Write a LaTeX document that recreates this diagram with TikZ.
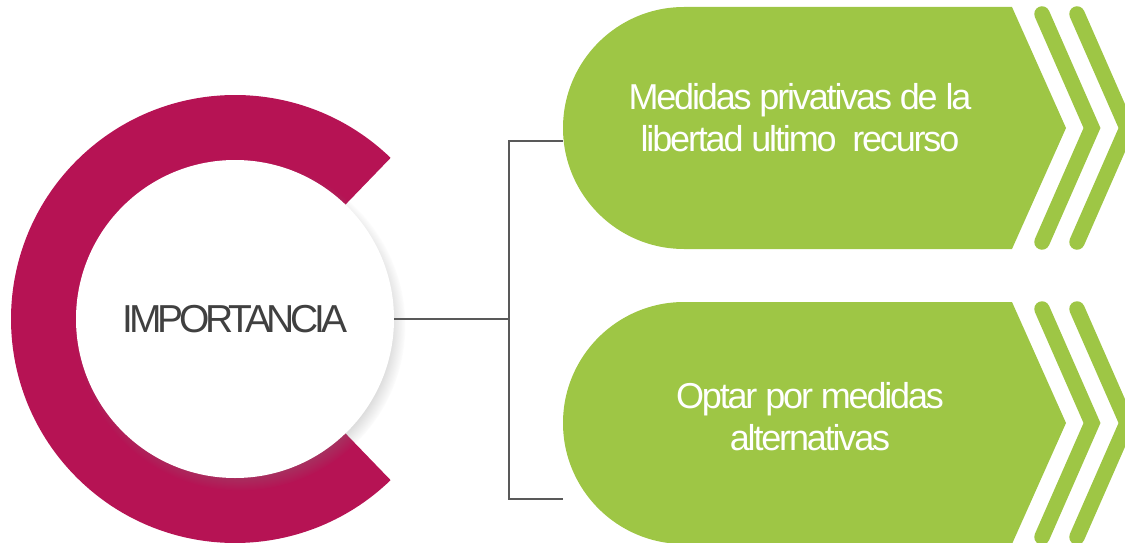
\documentclass[tikz,border=0pt]{standalone}
\usepackage{fontspec}
\setmainfont{Liberation Sans}
\usetikzlibrary{calc,shadows}
\definecolor{ringred}{RGB}{182,19,84}
\definecolor{leafgreen}{RGB}{158,198,69}
\definecolor{txtgray}{RGB}{64,64,64}
\definecolor{linegray}{RGB}{89,89,89}
\newfontfamily\tightA{Liberation Sans}[LetterSpace=-11]
\newfontfamily\tightB{Liberation Sans}[LetterSpace=-6]

\begin{document}
\begin{tikzpicture}[x=1pt,y=-1pt,
    chev/.style={draw=leafgreen, line width=15.5pt, line cap=round, line join=miter},
    conn/.style={draw=linegray, line width=1.6pt}]
    \useasboundingbox (0,0) rectangle (1125,543);

    \coordinate (C) at (235,319);
    \coordinate (Bus) at (509,319);
    \coordinate (MedL) at (563,141);
    \coordinate (OptL) at (563,499);

    % ring
    \fill[ringred] ($(C)+(46:224)$) arc[start angle=46, end angle=314, radius=224]
      -- ($(C)+(314:140)$) arc[start angle=314, end angle=46, radius=140] -- cycle;

    \node[circle, fill=white, minimum size=318pt, inner sep=0pt,
      circular drop shadow={shadow xshift=5pt, shadow yshift=-6pt, shadow scale=1.04, opacity=0.45},
      text=txtgray, font=\tightA\fontsize{39}{45}\selectfont] (Imp) at (C) {IMPORTANCIA};

    \draw[conn] (Imp.east) -- (Bus);
    \draw[conn] (MedL) -| (Bus) |- (OptL);

    % green shapes
    \fill[leafgreen] (684,249) arc[start angle=90, end angle=270, radius=121]
      -- (1012,7) -- (1066,128) -- (1012,249) -- cycle;
    \fill[leafgreen] (684,544) arc[start angle=90, end angle=270, radius=121]
      -- (1012,302) -- (1066,423) -- (1012,544) -- cycle;

    \draw[chev] (1042,14) -- (1092,128) -- (1042,242);
    \draw[chev] (1077,14) -- (1127,128) -- (1077,242);
    \draw[chev] (1042,309) -- (1092,423) -- (1042,537);
    \draw[chev] (1077,309) -- (1127,423) -- (1077,537);

    \node[text=white, align=center, font=\tightB\fontsize{36}{42}\selectfont] (Med) at (800,118)
      {Medidas privativas de la\\libertad ultimo~ recurso};
    \node[text=white, align=center, font=\tightB\fontsize{36}{42}\selectfont] (Opt) at (810,417)
      {Optar por medidas\\alternativas};
  \end{tikzpicture}
\end{document}
